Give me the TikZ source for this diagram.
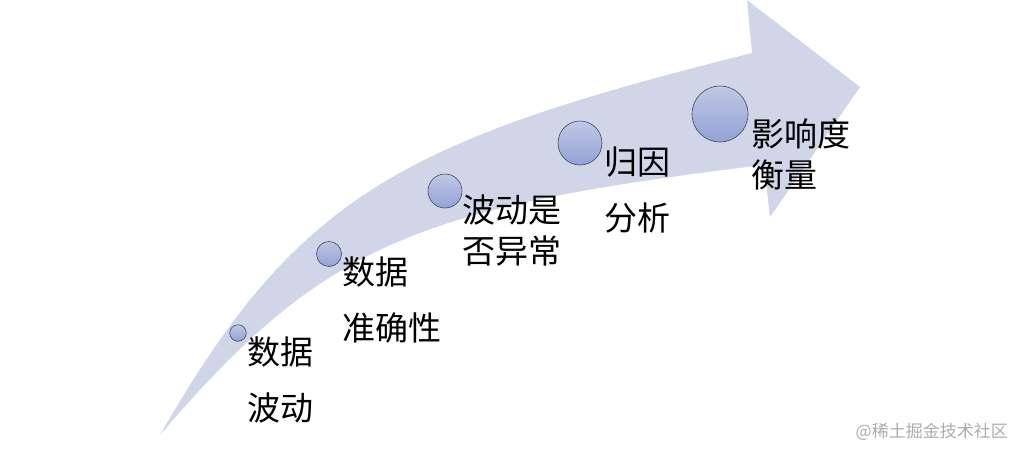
\documentclass[tikz,border=0pt]{standalone}
\usepackage{fontspec}
\usepackage{tikz}
\newfontfamily\cjk{Noto Sans CJK SC}
\definecolor{band}{RGB}{209,213,232}
\definecolor{dottop}{RGB}{192,199,229}
\definecolor{dotbot}{RGB}{148,162,214}
\definecolor{dotline}{RGB}{64,72,96}
\definecolor{mark}{RGB}{172,172,172}
\begin{document}
\begin{tikzpicture}[x=1pt,y=-1pt]
\tikzset{every node/.append style={inner sep=0pt},
  dot/.style={circle,draw=dotline,line width=0.6pt,top color=dottop,bottom color=dotbot},
  lbl/.style={anchor=west,align=left,font=\cjk\fontsize{33}{56}\selectfont},
  lbltight/.style={lbl,font=\cjk\fontsize{33}{41}\selectfont}}
\useasboundingbox (0,0) rectangle (1022,458);
\fill [band] (160,435) .. controls (297.6,195) and (402,140.5) .. (752,53)
  -- (747,0) -- (860,87) -- (770,217) -- (764,165)
  .. controls (414,207) and (322.5,245) .. cycle;
\node [dot,minimum size=16.5pt] (c1) at (238,333) {};
\node [dot,minimum size=25pt] (c2) at (329,254) {};
\node [dot,minimum size=34pt] (c3) at (445,191) {};
\node [dot,minimum size=44pt] (c4) at (580,143) {};
\node [dot,minimum size=56pt] (c5) at (720,114) {};
\node [lbl] (t1) at (247,380) {数据\\波动};
\node [lbl] (t2) at (342,300) {数据\\准确性};
\node [lbltight] (t3) at (462,230) {波动是\\否异常};
\node [lbl] (t4) at (604,190) {归因\\分析};
\node [lbltight] (t5) at (751,154) {影响度\\衡量};
\node [anchor=east,text=mark,font=\cjk\fontsize{17}{20}\selectfont] (wm) at (1008,432) {@稀土掘金技术社区};
\end{tikzpicture}
\end{document}
